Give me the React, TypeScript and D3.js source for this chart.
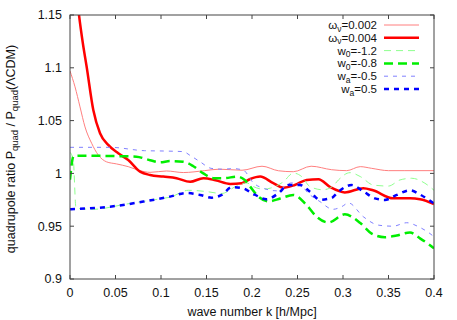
import React, { useEffect, useRef } from 'react';
import * as d3 from 'd3';

// k [h/Mpc], ratio
const omegaNu002 = [
  [0, 1.097], [0.0055, 1.082], [0.011, 1.063], [0.0165, 1.044], [0.0238, 1.0285], [0.031, 1.0175],
  [0.04, 1.011], [0.051, 1.009], [0.064, 1.0064], [0.077, 1.0026], [0.088, 1.001], [0.106, 1.0023],
  [0.1245, 1.0008], [0.148, 1.0026], [0.164, 1.004], [0.189, 1.003], [0.211, 1.0068], [0.229, 1.0025],
  [0.2454, 1.0016], [0.265, 1.0068], [0.2875, 1.0035], [0.304, 1.0026], [0.319, 1.0064], [0.3315, 1.0048],
  [0.35, 1.0026], [0.368, 1.0026], [0.4, 1.0026],
];
const omegaNu004 = [
  [0, 1.235], [0.005, 1.19], [0.0099, 1.15], [0.014, 1.124], [0.0183, 1.101], [0.0256, 1.06], [0.033, 1.038],
  [0.042, 1.027], [0.053, 1.019], [0.064, 1.0127], [0.077, 1.0017], [0.088, 0.9985], [0.1025, 0.997],
  [0.117, 0.9955], [0.132, 0.992], [0.1465, 0.9955], [0.16, 0.9935], [0.176, 0.99], [0.1887, 0.9907],
  [0.198, 0.9947], [0.209, 0.997], [0.2234, 0.9907], [0.2344, 0.9865], [0.247, 0.989], [0.26, 0.9938],
  [0.273, 0.9945], [0.286, 0.987], [0.302, 0.982], [0.3223, 0.986], [0.333, 0.984], [0.355, 0.9764],
  [0.3736, 0.9764], [0.3846, 0.9755], [0.4, 0.971],
];
const w0m12 = [
  [0, 1.02], [0.0036, 1.0127], [0.0066, 0.967], [0.0256, 0.966], [0.062, 0.971], [0.1025, 0.9764],
  [0.11, 0.9775], [0.13, 0.984], [0.148, 0.983], [0.1667, 0.981], [0.183, 0.988], [0.194, 0.991],
  [0.2015, 0.9875], [0.2125, 0.985], [0.22, 0.986], [0.2344, 0.992], [0.2454, 1.0003], [0.2546, 0.997],
  [0.2637, 0.9875], [0.278, 0.9845], [0.289, 0.988], [0.295, 0.9938], [0.3077, 1.0007], [0.319, 0.997],
  [0.3333, 0.989], [0.35, 0.988], [0.3626, 0.9938], [0.3755, 0.9954], [0.39, 0.9907], [0.4, 0.984],
];
const w0m08 = [
  [0, 0.994], [0.004, 1.0165], [0.01, 1.0168], [0.044, 1.0165], [0.073, 1.0158], [0.088, 1.0125],
  [0.099, 1.0105], [0.11, 1.0117], [0.1245, 1.011], [0.1355, 1.0068], [0.1465, 1.0], [0.1575, 0.9955],
  [0.17, 0.9955], [0.183, 0.997], [0.192, 0.9938], [0.198, 0.9875], [0.207, 0.978], [0.218, 0.9735],
  [0.231, 0.9762], [0.2454, 0.9796], [0.26, 0.97], [0.271, 0.959], [0.284, 0.9535], [0.302, 0.9612],
  [0.319, 0.953], [0.3315, 0.943], [0.346, 0.9395], [0.359, 0.9412], [0.3736, 0.944], [0.3846, 0.9385],
  [0.3956, 0.932], [0.4, 0.929],
];
const waM05 = [
  [0, 1.0247], [0.044, 1.0247], [0.082, 1.0215], [0.1025, 1.0212], [0.1245, 1.0206], [0.132, 1.017],
  [0.143, 1.011], [0.155, 1.0048], [0.1667, 1.004], [0.18, 1.0045], [0.1905, 1.003], [0.2015, 0.991],
  [0.214, 0.9855], [0.227, 0.9835], [0.2436, 0.991], [0.2527, 0.9898], [0.262, 0.981], [0.2747, 0.9733],
  [0.289, 0.966], [0.2986, 0.9685], [0.306, 0.972], [0.3223, 0.959], [0.339, 0.951], [0.355, 0.95],
  [0.37, 0.9533], [0.383, 0.9495], [0.3956, 0.943], [0.4, 0.94],
];
const waP05 = [
  [0, 0.966], [0.044, 0.9685], [0.0806, 0.9733], [0.11, 0.978], [0.128, 0.9815], [0.143, 0.9796],
  [0.1557, 0.977], [0.1667, 0.9796], [0.178, 0.987], [0.1887, 0.9862], [0.203, 0.9798], [0.216, 0.9755],
  [0.229, 0.9812], [0.24, 0.989], [0.2527, 0.989], [0.2637, 0.9827], [0.2747, 0.975], [0.2875, 0.9768],
  [0.295, 0.9827], [0.3095, 0.989], [0.3223, 0.983], [0.335, 0.9764], [0.346, 0.9749], [0.359, 0.9796],
  [0.3736, 0.984], [0.3846, 0.98], [0.397, 0.9733], [0.4, 0.9716],
];

const xTicks = [0, 0.05, 0.1, 0.15, 0.2, 0.25, 0.3, 0.35, 0.4];
const yTicks = [0.9, 0.95, 1, 1.05, 1.1, 1.15];

const series = [
  { data: omegaNu002, base: 'ω', sub: 'ν', val: '=0.002', color: '#ff7f7f', width: 1, dash: null },
  { data: omegaNu004, base: 'ω', sub: 'ν', val: '=0.004', color: '#ff0000', width: 2.5, dash: null },
  { data: w0m12, base: 'w', sub: '0', val: '=-1.2', color: '#8fff8f', width: 1, dash: '7,5' },
  { data: w0m08, base: 'w', sub: '0', val: '=-0.8', color: '#00ee00', width: 2.5, dash: '9,5' },
  { data: waM05, base: 'w', sub: 'a', val: '=-0.5', color: '#8080ff', width: 1, dash: '4,5' },
  { data: waP05, base: 'w', sub: 'a', val: '=0.5', color: '#0000ff', width: 2.5, dash: '5,5' },
];

const W = 457, H = 320;
const margin = { top: 15, right: 23, bottom: 41, left: 70 };
const FONT = '"Liberation Sans", Arial, sans-serif';

export default function App() {
  const svgRef = useRef<SVGSVGElement>(null);

  useEffect(() => {
    const svg = d3.select(svgRef.current);
    svg.selectAll('*').remove();

    const iw = W - margin.left - margin.right;
    const ih = H - margin.top - margin.bottom;

    const x = d3.scaleLinear().domain([0, 0.4]).range([0, iw]);
    const y = d3.scaleLinear().domain([0.9, 1.15]).range([ih, 0]);

    svg.append('defs').append('clipPath').attr('id', 'plot-clip')
      .append('rect').attr('width', iw).attr('height', ih);

    const g = svg.append('g').attr('transform', `translate(${margin.left},${margin.top})`);

    // curves
    const line = d3.line<number[]>()
      .x(d => x(d[0]))
      .y(d => y(d[1]))
      .curve(d3.curveMonotoneX);

    const plot = g.append('g').attr('clip-path', 'url(#plot-clip)');
    series.forEach(s => {
      plot.append('path')
        .datum(s.data)
        .attr('d', line)
        .attr('fill', 'none')
        .attr('stroke', s.color)
        .attr('stroke-width', s.width)
        .attr('stroke-dasharray', s.dash)
        .attr('stroke-linejoin', 'round');
    });

    // frame
    g.append('rect')
      .attr('width', iw).attr('height', ih)
      .attr('fill', 'none').attr('stroke', '#444').attr('stroke-width', 1);

    const tickLen = 4;
    // x ticks (bottom + mirrored on top)
    xTicks.forEach(t => {
      g.append('line').attr('x1', x(t)).attr('x2', x(t)).attr('y1', ih).attr('y2', ih - tickLen)
        .attr('stroke', '#444');
      g.append('line').attr('x1', x(t)).attr('x2', x(t)).attr('y1', 0).attr('y2', tickLen)
        .attr('stroke', '#444');
      g.append('text')
        .attr('x', x(t)).attr('y', ih + 18)
        .attr('text-anchor', 'middle')
        .style('font-family', FONT).style('font-size', '12.5px').attr('fill', '#111')
        .text(String(t));
    });
    // y ticks (left + mirrored on right)
    yTicks.forEach(t => {
      g.append('line').attr('x1', 0).attr('x2', tickLen).attr('y1', y(t)).attr('y2', y(t))
        .attr('stroke', '#444');
      g.append('line').attr('x1', iw).attr('x2', iw - tickLen).attr('y1', y(t)).attr('y2', y(t))
        .attr('stroke', '#444');
      g.append('text')
        .attr('x', -8).attr('y', y(t)).attr('dy', '0.35em')
        .attr('text-anchor', 'end')
        .style('font-family', FONT).style('font-size', '12.5px').attr('fill', '#111')
        .text(String(t));
    });

    // axis titles
    g.append('text')
      .attr('x', iw / 2).attr('y', ih + 37)
      .attr('text-anchor', 'middle')
      .style('font-family', FONT).style('font-size', '12.5px').attr('fill', '#111')
      .text('wave number k [h/Mpc]');

    const yl = svg.append('text')
      .attr('transform', `translate(15,${margin.top + ih / 2 + 2}) rotate(-90)`)
      .attr('text-anchor', 'middle')
      .style('font-family', FONT).style('font-size', '12.5px').attr('fill', '#111');
    yl.append('tspan').text('quadrupole ratio P');
    yl.append('tspan').attr('dy', 3).style('font-size', '9.5px').text('quad');
    yl.append('tspan').attr('dy', -3).text(' / P');
    yl.append('tspan').attr('dy', 3).style('font-size', '9.5px').text('quad');
    yl.append('tspan').attr('dy', -3).text('(ΛCDM)');

    // legend
    const legend = svg.append('g');
    series.forEach((s, i) => {
      const ly = 25 + i * 12.8;
      const tx = legend.append('text')
        .attr('x', 377).attr('y', ly + 4)
        .attr('text-anchor', 'end')
        .style('font-family', FONT).style('font-size', '11.5px').attr('fill', '#111');
      tx.append('tspan').text(s.base);
      tx.append('tspan').attr('dy', 2.5).style('font-size', '8.5px').text(s.sub);
      tx.append('tspan').attr('dy', -2.5).text(s.val);
      legend.append('line')
        .attr('x1', 384).attr('x2', 419).attr('y1', ly).attr('y2', ly)
        .attr('stroke', s.color)
        .attr('stroke-width', s.width)
        .attr('stroke-dasharray', s.dash);
    });
  }, []);

  return (
    <svg
      ref={svgRef}
      width={W}
      height={H}
      style={{ position: 'absolute', left: 0, top: 0, background: '#fff' }}
    />
  );
}
